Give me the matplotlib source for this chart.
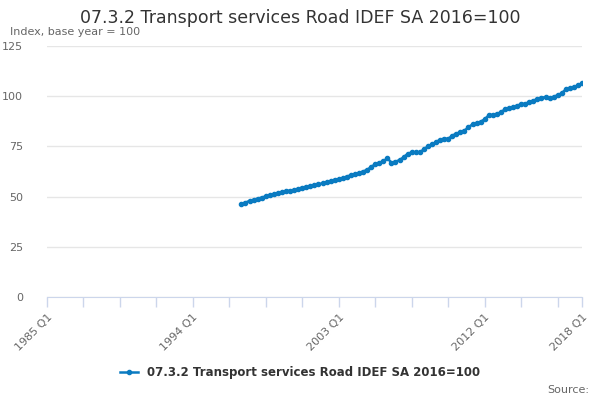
import matplotlib
matplotlib.use("Agg")
import matplotlib.pyplot as plt

# quarterly index values, 1997 Q1 .. 2018 Q1
start_label = "1997 Q1"
values = [
    46.3, 47.0, 47.9, 48.4, 49.0, 49.5, 50.1, 50.7, 51.2, 51.8,
    52.2, 52.6, 53.0, 53.3, 53.9, 54.5, 54.9, 55.2, 55.7, 56.2,
    56.6, 57.1, 57.8, 58.4, 58.7, 59.2, 60.0, 60.6, 61.2, 61.7,
    62.5, 63.3, 64.8, 66.1, 66.9, 67.6, 69.1, 66.9, 67.4, 68.2,
    69.6, 71.3, 72.0, 72.1, 72.0, 73.6, 75.0, 76.0, 77.1, 78.4,
    78.8, 78.8, 80.3, 81.4, 82.0, 82.9, 84.5, 86.0, 86.5, 87.3,
    88.5, 90.5, 90.8, 91.2, 92.0, 93.5, 94.0, 94.5, 95.3, 96.0,
    96.3, 97.0, 97.8, 98.6, 99.3, 99.5, 98.9, 99.7, 100.5, 101.5,
    103.4, 103.9, 104.6, 105.4, 106.5,
]
first_year = 1985
tick_labels = ["1985 Q1", "1994 Q1", "2003 Q1", "2012 Q1", "2018 Q1"]
y_ticks = [0, 25, 50, 75, 100, 125]

series_name = "07.3.2 Transport services Road IDEF SA 2016=100"


def quarter_index(label):
    year, q = label.split(" Q")
    return (int(year) - first_year) * 4 + int(q) - 1


start = quarter_index(start_label)
x = list(range(start, start + len(values)))
end = quarter_index(tick_labels[-1])

fig = plt.figure(figsize=(6, 4), dpi=100)
ax = fig.add_axes([0.078, 0.2575, 0.892, 0.6275])

blue = "#0a7bc1"
ax.plot(x, values, color=blue, lw=1.8, marker="o", ms=3, label=series_name)

ax.set_xlim(0, end)
ax.set_ylim(0, 125)
ax.set_yticks(y_ticks)
ax.grid(axis="y", color="#e6e6e6", lw=1)
ax.set_axisbelow(True)

# ticks every 9 quarters plus the last quarter, labels only on some
major = list(range(0, end, 9)) + [end]
ax.set_xticks(major)
labelled = {quarter_index(t): t for t in tick_labels}
ax.set_xticklabels([labelled.get(m, "") for m in major], rotation=45,
                   ha="right", rotation_mode="anchor")

for s in ["top", "right", "left"]:
    ax.spines[s].set_visible(False)
ax.spines["bottom"].set_color("#ccd6eb")
ax.tick_params(axis="x", colors="#ccd6eb", length=7, width=1, labelcolor="#666666",
               labelsize=8, pad=4)
ax.tick_params(axis="y", length=0, labelcolor="#666666", labelsize=8, pad=17)

fig.text(0.5, 0.955, series_name, ha="center", va="center", fontsize=12.5, color="#333333")
fig.text(0.017, 0.92, "Index, base year = 100", ha="left", va="center", fontsize=8, color="#666666")
fig.text(0.982, 0.025, "Source:", ha="right", va="center", fontsize=8, color="#666666")

leg = fig.legend(loc="center", bbox_to_anchor=(0.5, 0.068), frameon=False,
                 handlelength=1.5, fontsize=8.5)
for t in leg.get_texts():
    t.set_fontweight("bold")
    t.set_color("#333333")

fig.savefig("out.png", dpi=100)
